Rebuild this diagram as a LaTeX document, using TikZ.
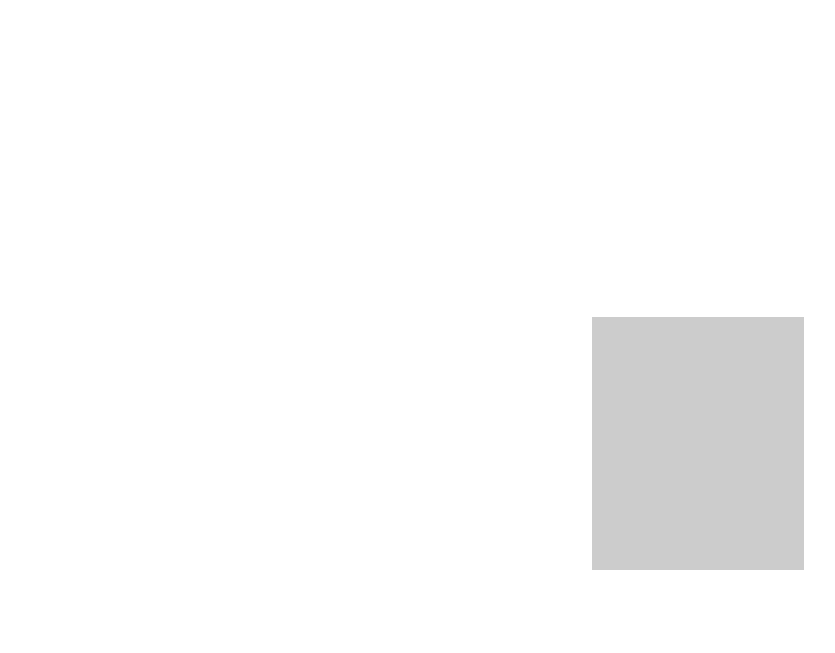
\documentclass[tikz,border=0pt]{standalone}
\definecolor{boxgray}{HTML}{CCCCCC}
\tikzset{graybox/.style={fill=boxgray, draw=none}}
\begin{document}
\begin{tikzpicture}[x=1pt,y=-1pt]
\useasboundingbox[fill=white] (0,0) rectangle (835,653);
\fill[boxgray] (591.5,317) rectangle (804,570);
\end{tikzpicture}
\end{document}
